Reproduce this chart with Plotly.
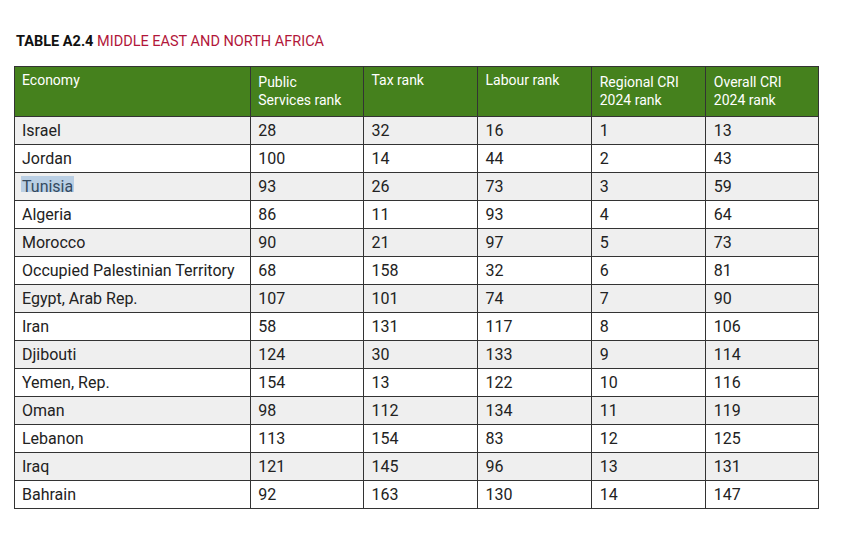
import plotly.graph_objects as go

economies = ["Israel", "Jordan", "Tunisia", "Algeria", "Morocco",
             "Occupied Palestinian Territory", "Egypt, Arab Rep.", "Iran",
             "Djibouti", "Yemen, Rep.", "Oman", "Lebanon", "Iraq", "Bahrain"]
public_services_rank = [28, 100, 93, 86, 90, 68, 107, 58, 124, 154, 98, 113, 121, 92]
tax_rank = [32, 14, 26, 11, 21, 158, 101, 131, 30, 13, 112, 154, 145, 163]
labour_rank = [16, 44, 73, 93, 97, 32, 74, 117, 133, 122, 134, 83, 96, 130]
regional_cri_rank = [1, 2, 3, 4, 5, 6, 7, 8, 9, 10, 11, 12, 13, 14]
overall_cri_rank = [13, 43, 59, 64, 73, 81, 90, 106, 114, 116, 119, 125, 131, 147]
headers = ["Economy", "Public<br>Services rank", "Tax rank", "Labour rank",
           "Regional CRI<br>2024 rank", "Overall CRI<br>2024 rank"]

W, H = 843, 544
OFF = 8  # default page body margin
FONT = "Roboto"
n = len(economies)
row_fill = ["#efefef" if i % 2 == 0 else "#ffffff" for i in range(n)]


def px(x):
    return (x - OFF) / W


def py(y):
    return 1 - (y - OFF) / H


fig = go.Figure(go.Table(
    columnwidth=[236, 113, 114, 114, 114, 113],
    header=dict(
        values=headers,
        fill_color="#45811d",
        line=dict(color="#333333", width=1),
        font=dict(family=FONT, size=14, color="white"),
        align="left",
        height=47,
    ),
    cells=dict(
        values=[economies, public_services_rank, tax_rank, labour_rank,
                regional_cri_rank, overall_cri_rank],
        fill_color=[row_fill] * 6,
        line=dict(color="#333333", width=1),
        font=dict(family=FONT, size=16, color="#222222"),
        align="left",
        height=28.0,
    ),
    domain=dict(x=[px(14), px(819)], y=[py(540), py(66)]),
))

fig.add_annotation(
    x=px(14), y=py(41), xref="paper", yref="paper",
    xanchor="left", yanchor="middle", showarrow=False,
    text="<b>TABLE A2.4</b> <span style='color:#b2163a'>MIDDLE EAST AND NORTH AFRICA</span>",
    font=dict(family=FONT, size=14.5, color="#111111"),
)

# selection highlight over "Tunisia"
fig.add_shape(type="rect", xref="paper", yref="paper",
              x0=px(21), x1=px(74), y0=py(192), y1=py(176),
              fillcolor="rgba(90,150,210,0.35)", line=dict(width=0), layer="above")

fig.update_layout(
    width=W, height=H,
    margin=dict(l=0, r=0, t=0, b=0),
    paper_bgcolor="white", plot_bgcolor="white",
)
fig.write_html("out.html")
